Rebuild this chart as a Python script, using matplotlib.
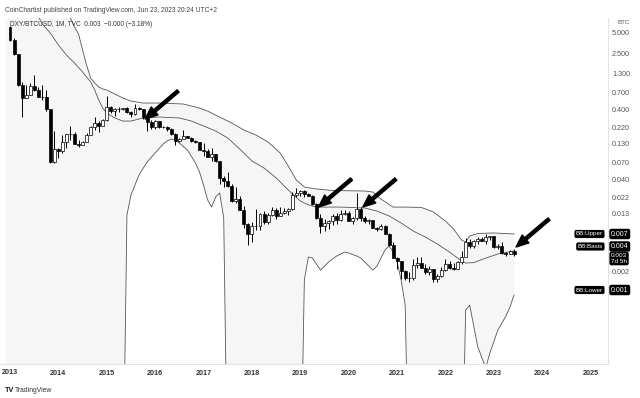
import numpy as np
import matplotlib
matplotlib.use('Agg')
import matplotlib.pyplot as plt
from matplotlib.ticker import FixedLocator, NullLocator, FixedFormatter

plt.rcParams['font.family'] = ['Liberation Sans', 'DejaVu Sans']

# DXY/BTCUSD monthly candles, Jan 2013 .. Jun 2023
first_open = 6.0
closes = [
    3.88, 2.46, 0.891, 0.591, 0.646, 0.858, 0.769, 0.608, 0.603, 0.405, 0.0714, 0.1096,
    0.1015, 0.140, 0.178, 0.179, 0.128, 0.125, 0.139, 0.1725, 0.222, 0.257, 0.234, 0.282,
    0.437, 0.375, 0.403, 0.401, 0.421, 0.363, 0.343, 0.417, 0.408, 0.309, 0.266, 0.229,
    0.271, 0.225, 0.227, 0.208, 0.181, 0.143, 0.153, 0.167, 0.157, 0.141, 0.137, 0.106,
    0.1026, 0.085, 0.093, 0.0733, 0.0422, 0.0385, 0.0323, 0.0197, 0.0215, 0.01467, 0.00935, 0.00667,
    0.00874, 0.0088, 0.013, 0.00994, 0.01253, 0.01477, 0.01222, 0.01353, 0.01434, 0.01524, 0.02408, 0.02572,
    0.02763, 0.02525, 0.02373, 0.01833, 0.01141, 0.00888, 0.00977, 0.0103, 0.01198, 0.01064, 0.01299, 0.01339,
    0.01042, 0.01149, 0.01544, 0.01148, 0.0104, 0.01066, 0.00822, 0.00791, 0.00871, 0.00681, 0.00466, 0.0031,
    0.00274, 0.00201, 0.001585, 0.001582, 0.002413, 0.002637, 0.002224, 0.001966, 0.002151, 0.001535, 0.001684, 0.002067,
    0.002508, 0.002239, 0.002159, 0.002731, 0.003201, 0.005253, 0.004545, 0.005421, 0.005769, 0.005442, 0.006174, 0.006254,
    0.004412, 0.004531, 0.003599, 0.003477, 0.003832, 0.00345,
]
highs = [
    6.14, 4.2, 2.51, 1.0, 0.9, 0.945, 1.25, 0.838, 0.89, 0.764, 0.412, 0.2,
    0.112, 0.171, 0.182, 0.234, 0.191, 0.148, 0.143, 0.188, 0.232, 0.316, 0.276, 0.291,
    0.624, 0.454, 0.419, 0.438, 0.425, 0.438, 0.385, 0.484, 0.428, 0.411, 0.323, 0.282,
    0.281, 0.275, 0.234, 0.23, 0.218, 0.185, 0.159, 0.206, 0.17, 0.161, 0.147, 0.138,
    0.133, 0.11, 0.113, 0.0934, 0.0735, 0.0449, 0.0508, 0.0347, 0.0313, 0.0231, 0.0169, 0.0097,
    0.0099, 0.01536, 0.01364, 0.01423, 0.01337, 0.01643, 0.01557, 0.01617, 0.01559, 0.01566, 0.02703, 0.03083,
    0.02854, 0.02846, 0.02595, 0.02396, 0.0185, 0.0129, 0.01088, 0.01061, 0.01291, 0.01334, 0.01501, 0.01499,
    0.01422, 0.01168, 0.02571, 0.0161, 0.01214, 0.01094, 0.0108, 0.00841, 0.00948, 0.00904, 0.00696, 0.00511,
    0.00322, 0.00276, 0.00207, 0.00194, 0.003, 0.00321, 0.003147, 0.00248, 0.002379, 0.002173, 0.001801, 0.002279,
    0.002933, 0.002819, 0.002642, 0.002739, 0.003813, 0.005949, 0.005633, 0.005546, 0.006159, 0.006126, 0.006839, 0.00635,
    0.0063, 0.004902, 0.005243, 0.003774, 0.004043, 0.00415,
]
lows = [
    3.83, 2.40, 0.873, 0.309, 0.59, 0.645, 0.734, 0.600, 0.549, 0.377, 0.0694, 0.0697,
    0.0812, 0.0966, 0.114, 0.147, 0.127, 0.117, 0.123, 0.138, 0.172, 0.207, 0.192, 0.232,
    0.275, 0.36, 0.328, 0.364, 0.396, 0.354, 0.309, 0.336, 0.393, 0.291, 0.2, 0.211,
    0.214, 0.221, 0.215, 0.198, 0.174, 0.123, 0.136, 0.152, 0.155, 0.137, 0.134, 0.105,
    0.0865, 0.0843, 0.0744, 0.0725, 0.0349, 0.0319, 0.0317, 0.0194, 0.0186, 0.0146, 0.00816, 0.00468,
    0.00518, 0.00768, 0.00769, 0.00942, 0.00941, 0.01218, 0.01112, 0.01226, 0.01285, 0.01264, 0.01497, 0.02237,
    0.02332, 0.0229, 0.02345, 0.01729, 0.01087, 0.00691, 0.00746, 0.00804, 0.00912, 0.00923, 0.01035, 0.01244,
    0.01018, 0.00934, 0.01076, 0.01045, 0.00976, 0.00937, 0.00815, 0.00739, 0.00776, 0.00671, 0.00462, 0.00307,
    0.00216, 0.00156, 0.001508, 0.001407, 0.00151, 0.002237, 0.00218, 0.001834, 0.001777, 0.001404, 0.001391, 0.001619,
    0.002015, 0.002111, 0.002039, 0.00214, 0.002558, 0.00318, 0.004287, 0.004313, 0.004917, 0.00531, 0.00493, 0.005625,
    0.004263, 0.004154, 0.00351, 0.003281, 0.00345, 0.003277,
]

# Bollinger Bands (20, 2) as drawn; 1e-6 marks months where the lower band is negative
upper_months = ['2012-12', '2014-03', '2014-04', '2014-05', '2014-06', '2014-07', '2014-08', '2014-09',
                '2014-10', '2014-11', '2014-12', '2015-01', '2015-03', '2015-05', '2015-07', '2015-10',
                '2016-02', '2016-08', '2016-12', '2017-02', '2017-05', '2017-08', '2017-11', '2018-02',
                '2018-05', '2018-08', '2018-10', '2018-12', '2019-02', '2019-05', '2019-09', '2020-05',
                '2020-07', '2020-09', '2020-12', '2021-03', '2021-07', '2021-10', '2022-01', '2022-03',
                '2022-05', '2022-06', '2022-07', '2022-09', '2023-01', '2023-06']
upper_vals = [40, 11, 8.0, 5.99, 4.76, 2.82, 1.72, 1.12, 0.955, 0.837, 0.784, 0.759, 0.665, 0.583,
              0.528, 0.495, 0.495, 0.479, 0.42, 0.38, 0.312, 0.257, 0.204, 0.173, 0.138, 0.096,
              0.0627, 0.0396, 0.0315, 0.0295, 0.0281, 0.0276, 0.0267, 0.0212, 0.0163, 0.0163,
              0.0161, 0.0139, 0.0103, 0.00794, 0.00553, 0.00518, 0.00631, 0.00686, 0.00697, 0.00675]

basis_months = ['2012-12', '2013-08', '2013-09', '2013-11', '2014-01', '2014-03', '2014-05', '2014-07',
                '2014-09', '2014-10', '2014-11', '2014-12', '2015-01', '2015-03', '2015-05', '2015-07',
                '2015-10', '2016-02', '2016-07', '2016-10', '2017-01', '2017-04', '2017-07', '2017-10',
                '2018-01', '2018-04', '2018-07', '2018-10', '2019-01', '2019-03', '2019-05', '2019-11',
                '2020-05', '2020-08', '2020-11', '2021-02', '2021-05', '2021-08', '2021-11', '2022-02',
                '2022-04', '2022-06', '2022-08', '2022-11', '2023-02', '2023-06']
basis_vals = [25, 8.6, 6.6, 4.92, 3.32, 2.39, 1.84, 1.37, 0.986, 0.759, 0.546, 0.42, 0.356, 0.303,
              0.274, 0.274, 0.303, 0.313, 0.303, 0.274, 0.233, 0.198, 0.157, 0.109, 0.0739, 0.0587,
              0.0425, 0.0285, 0.0199, 0.0175, 0.0163, 0.0163, 0.0158, 0.0143, 0.0122, 0.00966,
              0.00743, 0.00611, 0.00485, 0.00373, 0.00306, 0.0026, 0.00264, 0.00306, 0.0035, 0.00386]

lower_months = ['2012-12', '2015-05', '2015-06', '2015-07', '2015-09', '2015-11', '2016-01', '2016-03',
                '2016-04', '2016-05', '2016-06', '2016-07', '2016-09', '2016-11', '2016-12', '2017-01',
                '2017-02', '2017-03', '2017-04', '2017-05', '2017-06', '2017-07', '2019-01', '2019-02',
                '2019-03', '2019-04', '2019-05', '2019-06', '2019-07', '2019-08', '2019-10', '2019-12',
                '2020-01', '2020-03', '2020-04', '2020-06', '2020-07', '2020-08', '2020-09', '2020-10',
                '2020-11', '2020-12', '2021-01', '2021-02', '2021-03', '2021-04', '2022-05', '2022-06',
                '2022-07', '2022-09', '2022-11', '2022-12', '2023-02', '2023-04', '2023-05', '2023-06']
lower_vals = [1e-6, 1e-6, 0.0126, 0.0243, 0.0468, 0.0715, 0.0962, 0.129, 0.143, 0.152, 0.147,
              0.133, 0.106, 0.0692, 0.0515, 0.0336, 0.0206, 0.0163, 0.0227, 0.0259, 0.0114, 1e-6,
              1e-6, 0.00149, 0.00317, 0.00306, 0.00251, 0.00206, 0.00235, 0.00269, 0.00327, 0.00373,
              0.00361, 0.00327, 0.00306, 0.00235, 0.00206, 0.00235, 0.00306, 0.00399, 0.00455,
              0.00373, 0.00269, 0.00149, 0.000656, 1e-6, 1e-6, 0.000557, 0.000656, 0.000166,
              0.0000832, 0.000136, 0.000289, 0.000458, 0.000617, 0.000914]

# arrows drawn on the chart (tip month, tip price)
arrow_months = ['2015-10', '2019-05', '2020-04', '2023-06']
arrow_tips = [0.293, 0.0163, 0.0163, 0.0044]

price_ticks = [5, 2.5, 1.3, 0.7, 0.4, 0.22, 0.13, 0.07, 0.04, 0.022, 0.013, 0.002]
year_ticks = list(range(2014, 2026))


def month_index(s):
    y, m = s.split('-')
    return (int(y) - 2013) * 12 + int(m) - 1


closes = np.array(closes)
highs = np.array(highs)
lows = np.array(lows)
opens = np.r_[first_open, closes[:-1]]
x = np.arange(len(closes))
up = closes >= opens

W, H = 640, 398
fig = plt.figure(figsize=(W / 100, H / 100), dpi=100)
ax = fig.add_axes([0, 34 / H, 608 / W, 346 / H])
ax.set_yscale('log')

um = np.array([month_index(s) for s in upper_months])
bm = np.array([month_index(s) for s in basis_months])
lm = np.array([month_index(s) for s in lower_months])

# band fill + lines
ax.fill(np.r_[um, lm[::-1]], np.r_[upper_vals, lower_vals[::-1]], color='#f6f6f6', lw=0, zorder=0)
band_col = '#555555'
ax.plot(um, upper_vals, color=band_col, lw=0.6, zorder=2)
ax.plot(bm, basis_vals, color=band_col, lw=0.6, zorder=2)
ax.plot(lm, lower_vals, color=band_col, lw=0.6, zorder=2)

# candles
ax.vlines(x, lows, highs, color='black', lw=0.7, zorder=3)
ax.bar(x[up], (closes - opens)[up], bottom=opens[up], width=0.74,
       facecolor='white', edgecolor='black', lw=0.5, zorder=4)
ax.bar(x[~up], (opens - closes)[~up], bottom=closes[~up], width=0.74,
       facecolor='black', edgecolor='black', lw=0.5, zorder=4)

# arrows
for mo, tip in zip(arrow_months, arrow_tips):
    ax.annotate('', xy=(month_index(mo) + 0.5, tip), xytext=(33, 28), textcoords='offset pixels',
                arrowprops=dict(arrowstyle='simple,head_length=0.9,head_width=0.75,tail_width=0.22',
                                color='black', shrinkA=0, shrinkB=0, mutation_scale=10), zorder=6)

ax.set_xlim(-2.48, 148.3)
ax.set_ylim(9.48e-5, 8.05)

# axes styling
for s in ['top', 'left']:
    ax.spines[s].set_visible(False)
for s in ['right', 'bottom']:
    ax.spines[s].set_color('#e0e3eb')
    ax.spines[s].set_linewidth(0.8)
ax.yaxis.tick_right()
ax.yaxis.set_major_locator(FixedLocator(price_ticks))
ax.yaxis.set_major_formatter(FixedFormatter([f'{t:.3f}' for t in price_ticks]))
ax.yaxis.set_minor_locator(NullLocator())
ax.tick_params(axis='y', length=0, pad=3, labelsize=5.2, labelcolor='#555555')
ax.set_xticks([(y - 2013) * 12 for y in year_ticks])
ax.set_xticklabels([str(y) for y in year_ticks], fontweight='bold')
ax.tick_params(axis='x', length=0, pad=4, labelsize=5.2, labelcolor='#333333')
ax.xaxis.set_minor_locator(NullLocator())


def ftext(px, py, s, **kw):
    return fig.text(px / W, 1 - py / H, s, **kw)


ftext(2, 372, '2013', ha='left', va='center', size=5.2, fontweight='bold', color='#333333')

ftext(5, 10, 'CoinChartist published on TradingView.com, Jun 23, 2023 20:24 UTC+2',
      va='center', size=4.8, color='#444444')
ftext(10, 25, f'DXY/BTCUSD, 1M, TVC  {closes[-1]:.3f}  \u22120.000 (\u22123.18%)',
      va='center', size=4.7, color='#333333')
ftext(617, 22, 'BTC', va='center', size=4.4, color='#555555')

box = dict(boxstyle='round,pad=0.25,rounding_size=0.3', fc='black', ec='none')
ftext(603, 234, 'BB:Upper', ha='right', va='center', size=4.5, color='white', bbox=box)
ftext(611, 234, f'{upper_vals[-1]:.3f}', va='center', size=5.0, color='white', bbox=box)
ftext(603, 246.5, 'BB:Basis', ha='right', va='center', size=4.5, color='white', bbox=box)
ftext(611, 246.5, f'{basis_vals[-1]:.3f}', va='center', size=5.0, color='white', bbox=box)
ftext(611, 258.5, f'{closes[-1]:.3f}\n7d 5h', va='center', size=4.6, color='white', bbox=box,
      linespacing=1.1)
ftext(603, 290, 'BB:Lower', ha='right', va='center', size=4.5, color='white', bbox=box)
ftext(611, 290, f'{lower_vals[-1]:.3f}', va='center', size=5.0, color='white', bbox=box)

ftext(5, 390, 'TV', va='center', size=5.2, fontweight='heavy', color='#131722')
ftext(15, 390, 'TradingView', va='center', size=4.9, color='#333333')

fig.savefig('out.png', dpi=100, facecolor='white')
